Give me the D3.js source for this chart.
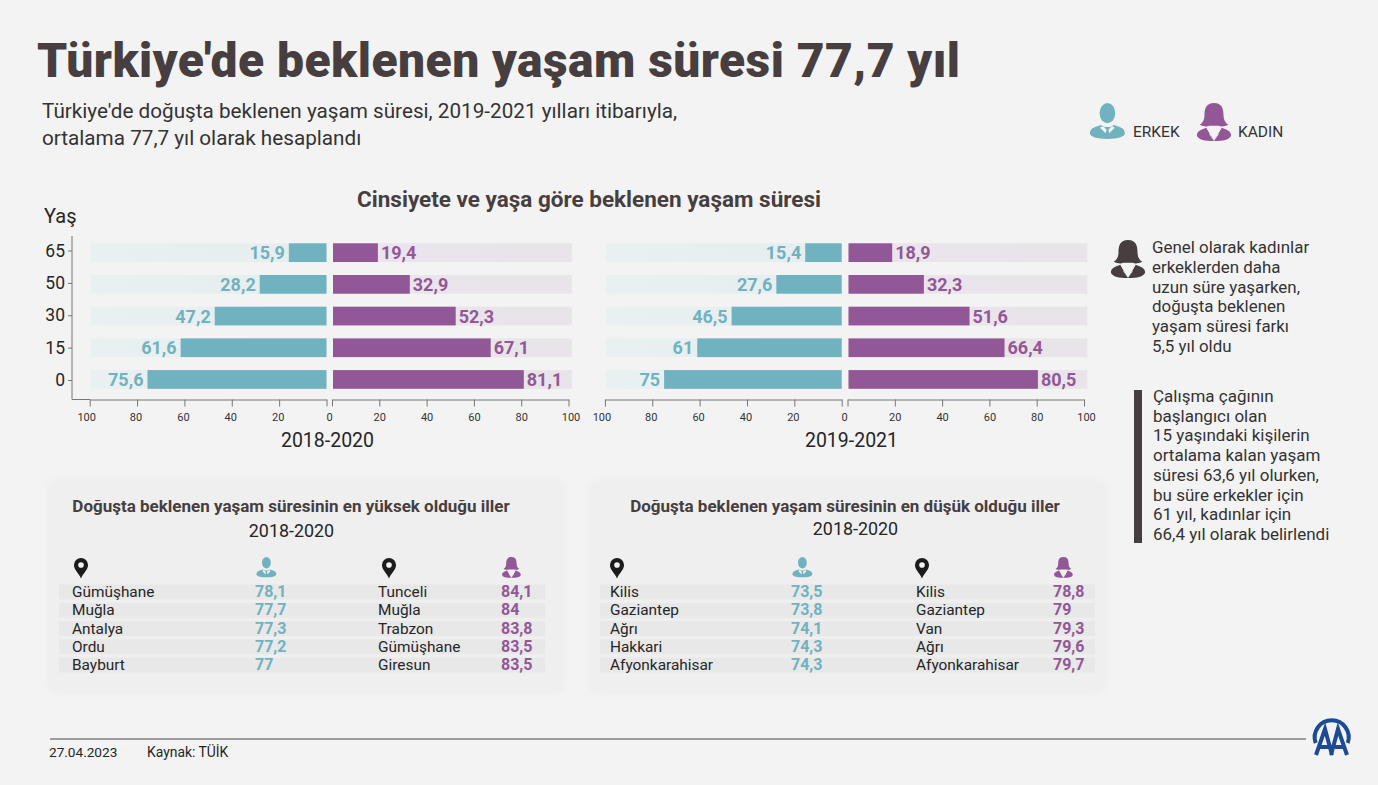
<!DOCTYPE html>
<html>
<head>
<meta charset="utf-8">
<script src="https://cdn.jsdelivr.net/npm/d3@7"></script>
<style>
html, body { margin: 0; padding: 0; background: #f3f3f3; }
svg { display: block; font-family: Roboto, sans-serif; }
</style>
</head>
<body>
<svg id="chart" width="1378" height="785"></svg>
<script>
const ages = ['65', '50', '30', '15', '0'];
const men2018 = [15.9, 28.2, 47.2, 61.6, 75.6];
const women2018 = [19.4, 32.9, 52.3, 67.1, 81.1];
const men2019 = [15.4, 27.6, 46.5, 61, 75];
const women2019 = [18.9, 32.3, 51.6, 66.4, 80.5];
const axisTicks = [0, 20, 40, 60, 80, 100];

const highMenCities = ['Gümüşhane', 'Muğla', 'Antalya', 'Ordu', 'Bayburt'];
const highMenValues = [78.1, 77.7, 77.3, 77.2, 77];
const highWomenCities = ['Tunceli', 'Muğla', 'Trabzon', 'Gümüşhane', 'Giresun'];
const highWomenValues = [84.1, 84, 83.8, 83.5, 83.5];
const lowMenCities = ['Kilis', 'Gaziantep', 'Ağrı', 'Hakkari', 'Afyonkarahisar'];
const lowMenValues = [73.5, 73.8, 74.1, 74.3, 74.3];
const lowWomenCities = ['Kilis', 'Gaziantep', 'Van', 'Ağrı', 'Afyonkarahisar'];
const lowWomenValues = [78.8, 79, 79.3, 79.6, 79.7];

const subtitleLines = ["Türkiye'de doğuşta beklenen yaşam süresi, 2019-2021 yılları itibarıyla,", 'ortalama 77,7 yıl olarak hesaplandı'];
const noteOne = ['Genel olarak kadınlar', 'erkeklerden daha', 'uzun süre yaşarken,', 'doğuşta beklenen', 'yaşam süresi farkı', '5,5 yıl oldu'];
const noteTwo = ['Çalışma çağının', 'başlangıcı olan', '15 yaşındaki kişilerin', 'ortalama kalan yaşam', 'süresi 63,6 yıl olurken,', 'bu süre erkekler için', '61 yıl, kadınlar için', '66,4 yıl olarak belirlendi'];

const TEAL = '#70b2bf';
const PURPLE = '#925796';
const DARK = '#473e40';
const INK = '#262626';
const fmt = v => String(v).replace('.', ',');

const svg = d3.select('#chart');
const defs = svg.append('defs');
defs.append('filter').attr('id', 'soft').attr('x', '-5%').attr('y', '-5%').attr('width', '110%').attr('height', '110%')
    .append('feGaussianBlur').attr('stdDeviation', 2);

function label(parent, x, y, text, size, opts = {}) {
    return parent.append('text')
        .attr('x', x).attr('y', y)
        .attr('font-size', size)
        .attr('font-weight', opts.weight || 400)
        .attr('fill', opts.fill || INK)
        .attr('text-anchor', opts.anchor || 'start')
        .text(text);
}

// person icons drawn in a 40x40 box
function person(parent, x, y, scale, color, female) {
    const g = parent.append('g').attr('transform', `translate(${x},${y}) scale(${scale})`);
    if (female) {
        g.append('path').attr('fill', color)
            .attr('d', 'M20 0C11 0 10 7 10 13C10 18 8 21 5 23C9 25 13 25 15 24L25 24C27 25 31 25 35 23C32 21 30 18 30 13C30 7 29 0 20 0Z');
        g.append('path').attr('fill', color)
            .attr('d', 'M12 26L20 40L28 26C34 28 38 30 38 34C38 37 32 40 24 40L16 40C8 40 2 37 2 34C2 30 6 28 12 26Z');
        g.append('path').attr('fill', '#f3f3f3').attr('d', 'M12 26L20 40L15 33L18 31Z M28 26L20 40L25 33L22 31Z');
    } else {
        g.append('ellipse').attr('fill', color).attr('cx', 20).attr('cy', 11).attr('rx', 8.5).attr('ry', 11);
        g.append('path').attr('fill', color)
            .attr('d', 'M13 24L17 26L23 26L27 24C34 26 39 28 39 33C39 37 31 39 20 39C9 39 1 37 1 33C1 28 6 26 13 24Z');
        g.append('path').attr('fill', '#f3f3f3').attr('d', 'M15 25L19 29L18 33L12 27Z M25 25L21 29L22 33L28 27Z');
    }
    return g;
}

function pin(parent, x, y) {
    const g = parent.append('g').attr('transform', `translate(${x},${y}) scale(1.08)`);
    g.append('path').attr('fill', '#1c1c1c')
        .attr('d', 'M0 18C-2 13 -6.5 10 -6.5 5.5A6.5 6.5 0 0 1 6.5 5.5C6.5 10 2 13 0 18Z');
    g.append('circle').attr('cy', 5.5).attr('r', 2.6).attr('fill', '#f3f3f3');
}

// title block
label(svg, 37, 77, "Türkiye'de beklenen yaşam süresi 77,7 yıl", 48, { weight: 900, fill: DARK })
    .attr('letter-spacing', 0.45);
subtitleLines.forEach((t, i) => label(svg, 42, 118 + i * 27, t, 20.7, { fill: '#333' }));

// legend
person(svg, 1089, 103, 0.92, TEAL, false);
label(svg, 1133, 137, 'ERKEK', 15.5, { fill: '#333' });
person(svg, 1195, 103, 0.95, PURPLE, true);
label(svg, 1238, 137, 'KADIN', 15.5, { fill: '#333' });

label(svg, 589, 207, 'Cinsiyete ve yaşa göre beklenen yaşam süresi', 22.5, { weight: 700, fill: DARK, anchor: 'middle' });
label(svg, 44, 223, 'Yaş', 20);

const bandY = d3.scaleBand().domain(ages).range([243.3, 388.8]).paddingInner(0.41);
const AXIS_Y = 399.5;

function pyramid(spec) {
    const g = svg.append('g');
    const left = d3.scaleLinear().domain([0, 100]).range([spec.leftZero, spec.leftZero - 236.8]);
    const right = d3.scaleLinear().domain([0, 100]).range([spec.rightZero, spec.rightZero + 236.5]);

    const gradL = defs.append('linearGradient').attr('id', 'bgL' + spec.id);
    gradL.append('stop').attr('offset', '0%').attr('stop-color', '#e9f0f1');
    gradL.append('stop').attr('offset', '100%').attr('stop-color', '#e6edee');
    const gradR = defs.append('linearGradient').attr('id', 'bgR' + spec.id);
    gradR.append('stop').attr('offset', '0%').attr('stop-color', '#ece4ee');
    gradR.append('stop').attr('offset', '100%').attr('stop-color', '#e8e4e9');

    // background tracks
    g.selectAll('.track-l').data(ages).join('rect').attr('class', 'track-l')
        .attr('x', left(99.5)).attr('width', left(0) - left(99.5))
        .attr('y', d => bandY(d)).attr('height', bandY.bandwidth())
        .attr('fill', `url(#bgL${spec.id})`);
    g.selectAll('.track-r').data(ages).join('rect').attr('class', 'track-r')
        .attr('x', right(0) + 1).attr('width', right(101.4) - right(0) - 1)
        .attr('y', d => bandY(d)).attr('height', bandY.bandwidth())
        .attr('fill', `url(#bgR${spec.id})`);

    // bars
    g.selectAll('.bar-m').data(spec.men).join('rect').attr('class', 'bar-m')
        .attr('x', d => left(d)).attr('width', d => left(0) - left(d))
        .attr('y', (d, i) => bandY(ages[i])).attr('height', bandY.bandwidth())
        .attr('fill', TEAL);
    g.selectAll('.bar-w').data(spec.women).join('rect').attr('class', 'bar-w')
        .attr('x', right(0) + 1).attr('width', d => right(d) - right(0) - 1)
        .attr('y', (d, i) => bandY(ages[i])).attr('height', bandY.bandwidth())
        .attr('fill', PURPLE);

    // value labels
    g.selectAll('.val-m').data(spec.men).join('text').attr('class', 'val-m')
        .attr('x', d => left(d) - 4).attr('y', (d, i) => bandY(ages[i]) + 16)
        .attr('text-anchor', 'end').attr('font-size', 18).attr('font-weight', 700)
        .attr('fill', TEAL).text(fmt);
    g.selectAll('.val-w').data(spec.women).join('text').attr('class', 'val-w')
        .attr('x', d => right(d) + 3).attr('y', (d, i) => bandY(ages[i]) + 16)
        .attr('font-size', 18).attr('font-weight', 700)
        .attr('fill', PURPLE).text(fmt);

    // axes, the single zero label sits between the two halves
    const leftAxis = g.append('g').attr('transform', `translate(0,${AXIS_Y})`)
        .call(d3.axisBottom(left).tickValues(axisTicks).tickSize(7).tickPadding(7).tickSizeOuter(0));
    leftAxis.selectAll('.tick text').attr('dx', d => d === 0 ? 2.5 : (d === 100 ? -3.5 : -1.5));
    const rightAxis = g.append('g').attr('transform', `translate(0,${AXIS_Y})`)
        .call(d3.axisBottom(right).tickValues(axisTicks).tickSize(7).tickPadding(7).tickSizeOuter(0)
            .tickFormat(d => d === 0 ? '' : d));
    rightAxis.selectAll('.tick text').attr('dx', d => d === 100 ? 2 : 0);
    [leftAxis, rightAxis].forEach(ax => {
        ax.select('.domain').attr('stroke', '#777');
        ax.selectAll('.tick line').attr('stroke', '#777');
        ax.selectAll('.tick text').attr('font-size', 11).attr('fill', '#333').attr('font-family', 'Roboto, sans-serif');
    });
    label(g, spec.titleX, 447, spec.title, 19.5, { anchor: 'middle' });
}

const yAxisScale = d3.scalePoint().domain(ages).range([250.5, 380]);
const yAxis = svg.append('g').attr('transform', 'translate(72,0)')
    .call(d3.axisLeft(yAxisScale).tickSize(4).tickPadding(3).tickSizeOuter(0));
yAxis.select('.domain').attr('d', `M0,236V${AXIS_Y}H18`).attr('stroke', '#777');
yAxis.selectAll('.tick line').attr('stroke', '#777');
yAxis.selectAll('.tick text').attr('font-size', 17.5).attr('fill', INK).attr('font-family', 'Roboto, sans-serif');

pyramid({ id: 'a', men: men2018, women: women2018, leftZero: 326.5, rightZero: 332, title: '2018-2020', titleX: 327.5 });
pyramid({ id: 'b', men: men2019, women: women2019, leftZero: 841.7, rightZero: 847.5, title: '2019-2021', titleX: 851.5 });

// side notes
person(svg, 1109, 240, 0.95, DARK, true);
noteOne.forEach((t, i) => label(svg, 1152, 253 + i * 19.8, t, 16.9, { fill: '#333' }));
svg.append('rect').attr('x', 1134).attr('y', 390).attr('width', 8).attr('height', 153).attr('fill', DARK);
noteTwo.forEach((t, i) => label(svg, 1153, 402 + i * 19.7, t, 17, { fill: '#333' }));

// city tables
function cityTable(spec) {
    const g = svg.append('g');
    g.append('rect').attr('x', spec.x).attr('y', 479).attr('width', spec.w).attr('height', 215)
        .attr('rx', 10).attr('fill', '#efefef').attr('filter', 'url(#soft)');
    label(g, spec.titleX, 512, spec.title, 17, { weight: 700, fill: DARK, anchor: 'middle' });
    label(g, spec.yearX, spec.yearY, '2018-2020', 17.9, { anchor: 'middle' });

    const rowY = d3.scaleBand().domain(d3.range(5)).range([584.5, 672.5]).paddingInner(0.18);
    g.selectAll('.row').data(d3.range(5)).join('rect').attr('class', 'row')
        .attr('x', spec.rowX).attr('width', spec.rowW)
        .attr('y', d => rowY(d)).attr('height', rowY.bandwidth())
        .attr('fill', '#e8e8e8');

    spec.columns.forEach(col => {
        pin(g, col.pinX, 559);
        person(g, col.valueX + (col.female ? 0 : 1), 557, 0.52, col.female ? PURPLE : TEAL, col.female);
        g.selectAll(null).data(col.cities).join('text')
            .attr('x', col.cityX).attr('y', (d, i) => rowY(i) + 12.5)
            .attr('font-size', 15.4).attr('fill', INK).text(d => d);
        g.selectAll(null).data(col.values).join('text')
            .attr('x', col.valueX).attr('y', (d, i) => rowY(i) + 12.5)
            .attr('font-size', 16).attr('font-weight', 700)
            .attr('fill', col.female ? PURPLE : TEAL).text(fmt);
    });
}

cityTable({
    x: 46, w: 519, titleX: 291, yearX: 291.5, yearY: 537,
    title: 'Doğuşta beklenen yaşam süresinin en yüksek olduğu iller',
    rowX: 59, rowW: 486,
    columns: [
        { cityX: 72, pinX: 81, valueX: 255, cities: highMenCities, values: highMenValues, female: false },
        { cityX: 378, pinX: 389, valueX: 501, cities: highWomenCities, values: highWomenValues, female: true }
    ]
});
cityTable({
    x: 588, w: 519, titleX: 845, yearX: 855.5, yearY: 535,
    title: 'Doğuşta beklenen yaşam süresinin en düşük olduğu iller',
    rowX: 600, rowW: 495,
    columns: [
        { cityX: 610, pinX: 617, valueX: 791, cities: lowMenCities, values: lowMenValues, female: false },
        { cityX: 916, pinX: 922, valueX: 1053, cities: lowWomenCities, values: lowWomenValues, female: true }
    ]
});

// footer
svg.append('line').attr('x1', 50).attr('x2', 1306).attr('y1', 739).attr('y2', 739).attr('stroke', '#444').attr('stroke-width', 1);
label(svg, 49, 757, '27.04.2023', 13.6);
label(svg, 147, 757, 'Kaynak: TÜİK', 13.9);

const logo = svg.append('g').attr('fill', 'none').attr('stroke', '#1c4b93');
logo.append('path').attr('stroke-width', 4).attr('d', 'M1315.7 743A17 17 0 1 1 1347.7 743');
logo.append('path').attr('stroke-width', 4).attr('d', 'M1316 755L1325 729L1332 755M1331 755L1338 729L1347 755M1320 747H1329M1335 747H1344');
</script>
</body>
</html>
